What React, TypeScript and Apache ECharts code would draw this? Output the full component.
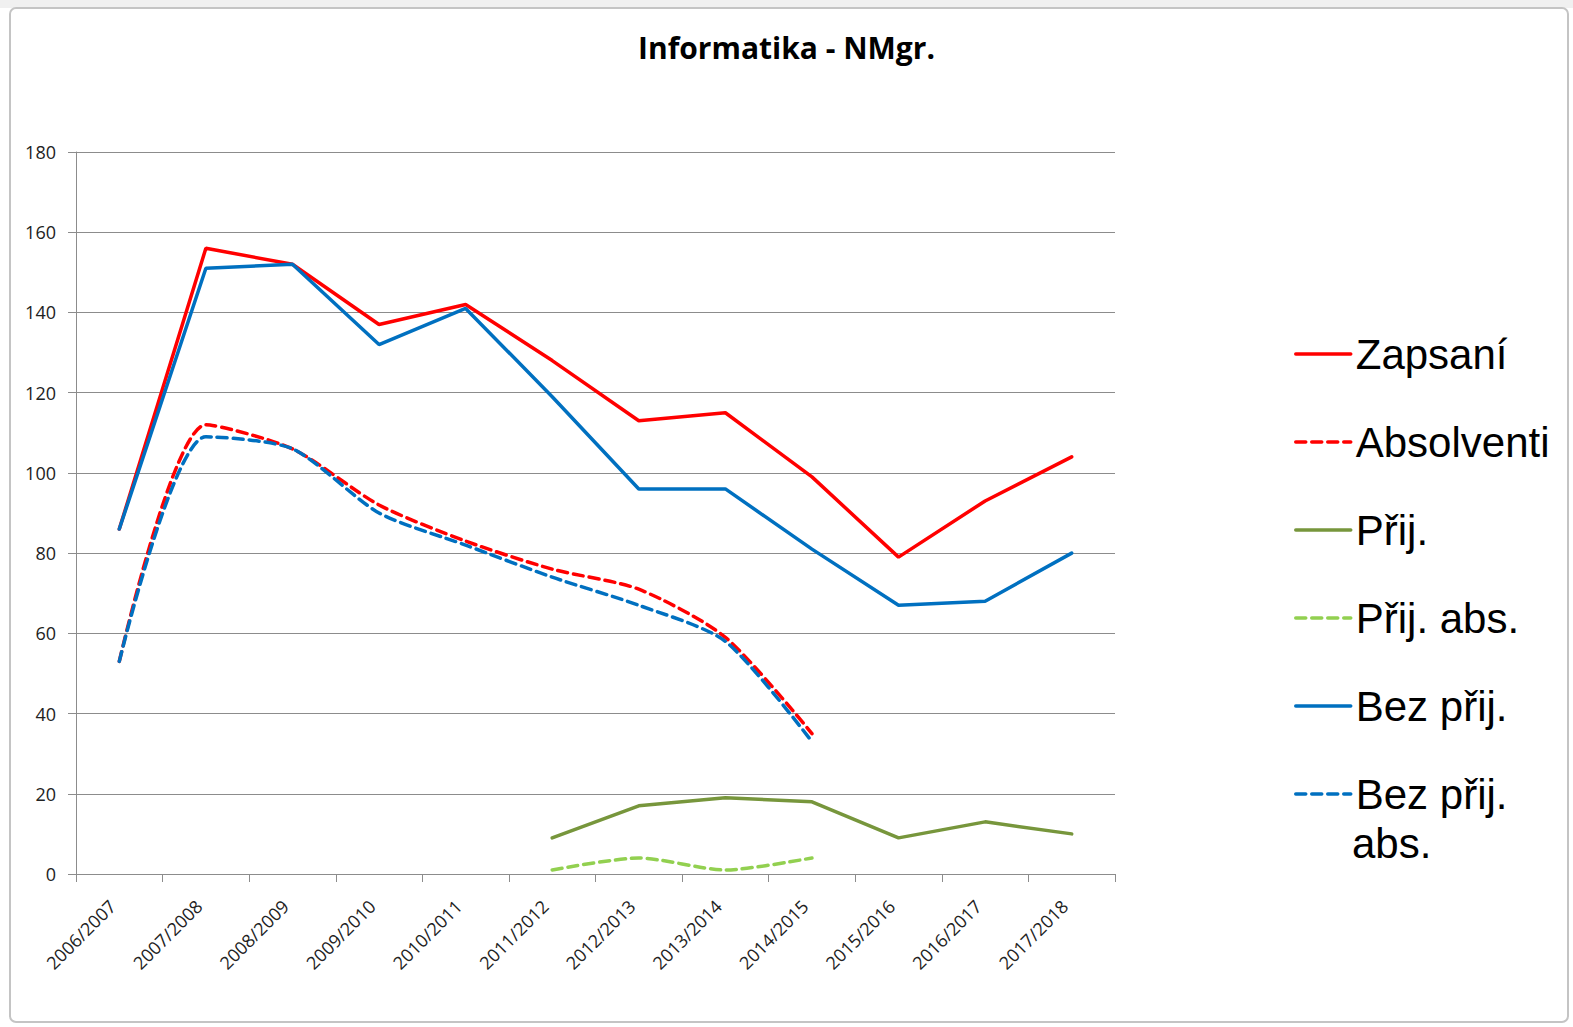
import React, { useEffect, useRef } from "react";
import * as echarts from "echarts";

const categories = [
  "2006/2007", "2007/2008", "2008/2009", "2009/2010", "2010/2011", "2011/2012",
  "2012/2013", "2013/2014", "2014/2015", "2015/2016", "2016/2017", "2017/2018",
];
const zapsani = [86, 156, 152, 137, 142, 128, 113, 115, 99, 79, 93, 104];
const absolventi = [53, 112, 106, 92, 83, 76, 71, 59, 35, null, null, null];
const prij = [null, null, null, null, null, 9, 17, 19, 18, 9, 13, 10];
const prijAbs = [null, null, null, null, null, 1, 4, 1, 4, null, null, null];
const bezPrij = [86, 151, 152, 132, 141, 119, 96, 96, 81, 67, 68, 80];
const bezPrijAbs = [53, 109, 106, 90, 82, 74, 67, 58, 33, null, null, null];
const yTicks = { min: 0, max: 180, interval: 20 };

export default function App() {
  const ref = useRef<HTMLDivElement>(null);
  useEffect(() => {
    if (!ref.current) return;
    const chart = echarts.init(ref.current, null, { renderer: "svg" });
    const dash = [10, 6];
    const mk = (name: string, data: any[], color: string, dashed: boolean, smooth: number | boolean) => ({
      name,
      type: "line",
      data,
      symbol: "none",
      showSymbol: false,
      smooth,
      connectNulls: false,
      lineStyle: { color, width: 3.5, type: dashed ? dash : "solid", cap: "round" },
      itemStyle: { color },
    });
    chart.setOption({
      animation: false,
      backgroundColor: "#ffffff",
      title: {
        text: "Informatika - NMgr.",
        left: "center",
        top: 27,
        textStyle: { fontFamily: "Open Sans", fontWeight: "bold", fontSize: 30, color: "#000" },
      },
      grid: { left: 76, right: 458, top: 152, bottom: 153 },
      xAxis: {
        type: "category",
        data: categories,
        boundaryGap: true,
        axisLine: { lineStyle: { color: "#8c8c8c", width: 1 } },
        axisTick: { show: true, length: 8, lineStyle: { color: "#8c8c8c" } },
        axisLabel: {
          rotate: 45,
          margin: 22,
          padding: [0, 10, 0, 0],
          fontFamily: "Open Sans",
          fontSize: 18,
          color: "#222",
          interval: 0,
        },
      },
      yAxis: {
        type: "value",
        min: yTicks.min,
        max: yTicks.max,
        interval: yTicks.interval,
        axisLine: { show: true, lineStyle: { color: "#8c8c8c", width: 1 } },
        axisTick: { show: true, length: 8, lineStyle: { color: "#8c8c8c" } },
        splitLine: { lineStyle: { color: "#8c8c8c", width: 1 } },
        axisLabel: { margin: 20, fontFamily: "Open Sans", fontSize: 18, color: "#222" },
      },
      legend: {
        orient: "vertical",
        left: 1289,
        top: 327,
        itemWidth: 55,
        itemHeight: 14,
        itemGap: 44,
        itemStyle: { opacity: 0, borderWidth: 0 },
        lineStyle: { width: 3.5 },
        formatter: (n: string) => (n === "Bez přij. abs." ? "Bez přij." : n),
        textStyle: { fontFamily: "Liberation Sans", fontSize: 42, lineHeight: 44, color: "#000" },
        data: ["Zapsaní", "Absolventi", "Přij.", "Přij. abs.", "Bez přij.", "Bez přij. abs."],
      },
      graphic: [
        { type: "rect", shape: { x: 0, y: 0, width: 1573, height: 8 }, style: { fill: "#f0f0f0" }, z: 0 },
        {
          type: "rect",
          shape: { x: 10, y: 8, width: 1558, height: 1014, r: 6 },
          style: { fill: "none", stroke: "#c4c4c4", lineWidth: 2 },
          z: 0,
        },
        {
          type: "text",
          left: 1352,
          top: 822,
          style: { text: "abs.", font: "42px 'Liberation Sans'", fill: "#000" },
        },
      ],
      series: [
        mk("Zapsaní", zapsani, "#ff0000", false, false),
        mk("Absolventi", absolventi, "#ff0000", true, 0.25),
        mk("Přij.", prij, "#77963c", false, false),
        mk("Přij. abs.", prijAbs, "#92d050", true, 0.25),
        mk("Bez přij.", bezPrij, "#0070c0", false, false),
        mk("Bez přij. abs.", bezPrijAbs, "#0070c0", true, 0.25),
      ],
    });
    return () => chart.dispose();
  }, []);
  return (
    <div
      ref={ref}
      style={{ position: "fixed", left: 0, top: 0, width: 1573, height: 1027, background: "#fff" }}
    />
  );
}
